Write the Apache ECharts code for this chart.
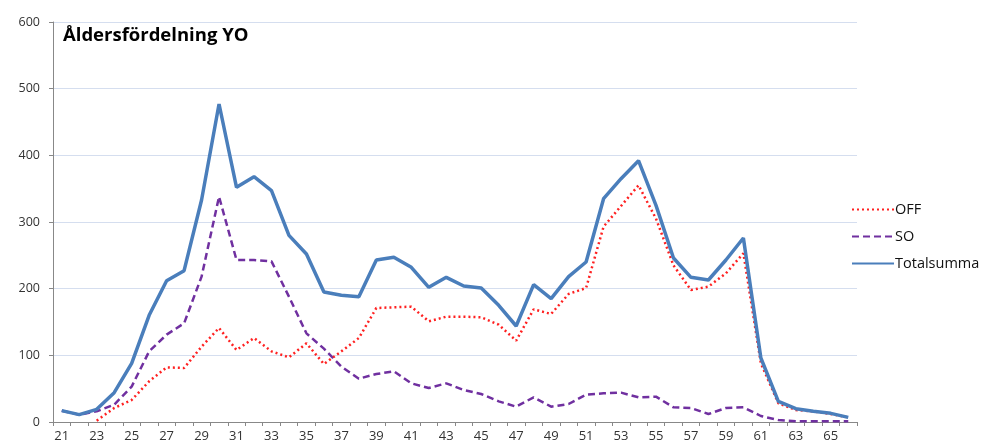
<!DOCTYPE html>
<html>
<head>
<meta charset="utf-8">
<script src="https://cdn.jsdelivr.net/npm/echarts@6/dist/echarts.min.js"></script>
<style>
html,body{margin:0;padding:0;background:#fff;}
#c{width:986px;height:446px;}
</style>
</head>
<body>
<div id="c"></div>
<script>
const ages = ["21","22","23","24","25","26","27","28","29","30","31","32","33","34","35","36","37","38","39","40","41","42","43","44","45","46","47","48","49","50","51","52","53","54","55","56","57","58","59","60","61","62","63","64","65","66"];
const offValues = [null,null,2,21,33,61,82,81,113,141,108,126,106,97,118,87,106,126,171,172,173,151,158,158,157,146,122,169,162,192,201,293,324,355,305,235,198,203,223,253,88,28,18,16,12,7];
const soValues = [17,11,16,26,53,106,131,148,218,338,243,243,241,188,133,110,83,65,72,76,58,51,58,48,42,31,23,37,23,27,41,43,44,37,38,22,21,12,21,22,9,3,1,1,1,1];
const totalValues = [17,11,19,44,88,160,212,227,333,477,352,368,347,280,252,195,190,188,243,247,232,202,217,204,201,175,144,206,185,218,240,335,365,392,325,246,217,213,243,276,96,31,20,16,13,7];
const yTicks = {min:0, max:600, interval:100};

const chart = echarts.init(document.getElementById('c'), null, {renderer:'canvas'});
chart.setOption({
  animation:false,
  backgroundColor:'#ffffff',
  title:{
    text:'Åldersfördelning YO',
    left:58, top:21,
    textStyle:{fontFamily:'Open Sans', fontWeight:'bold', fontSize:18.5, color:'#000'}
  },
  legend:{
    orient:'vertical',
    left:846, top:197,
    itemWidth:42, itemHeight:14, itemGap:12,
    itemStyle:{color:'rgba(0,0,0,0)', borderColor:'rgba(0,0,0,0)', borderWidth:0},
    textStyle:{fontFamily:'Open Sans', fontSize:14.5, color:'#111', padding:[0,0,0,-4]},
    data:['OFF','SO','Totalsumma']
  },
  grid:{left:53, right:129, top:22, bottom:24, containLabel:false},
  xAxis:{
    type:'category',
    data:ages,
    boundaryGap:true,
    axisLine:{lineStyle:{color:'#888', width:1}},
    axisTick:{show:true, interval:0, length:4, lineStyle:{color:'#888'}},
    axisLabel:{interval:1, fontFamily:'Open Sans', fontSize:13, color:'#333', margin:8},
    splitLine:{show:false}
  },
  yAxis:{
    type:'value',
    min:yTicks.min, max:yTicks.max, interval:yTicks.interval,
    axisLine:{show:true, lineStyle:{color:'#888', width:1}},
    axisTick:{show:true, length:4, lineStyle:{color:'#888'}},
    axisLabel:{fontFamily:'Open Sans', fontSize:12.5, color:'#333', margin:13},
    splitLine:{show:true, lineStyle:{color:'#d5deef', width:1}}
  },
  series:[
    {name:'OFF', type:'line', data:offValues, symbol:'none', showSymbol:false, connectNulls:false, z:3,
     lineStyle:{color:'#ff2020', width:2.5, type:[2,3]}, itemStyle:{color:'#ff2020'}},
    {name:'SO', type:'line', data:soValues, symbol:'none', showSymbol:false, z:2,
     lineStyle:{color:'#7030a0', width:2.5, type:[7,4]}, itemStyle:{color:'#7030a0'}},
    {name:'Totalsumma', type:'line', data:totalValues, symbol:'none', showSymbol:false, z:4,
     lineStyle:{color:'#4a7ebb', width:3.5}, itemStyle:{color:'#4a7ebb'}}
  ]
});
</script>
</body>
</html>
